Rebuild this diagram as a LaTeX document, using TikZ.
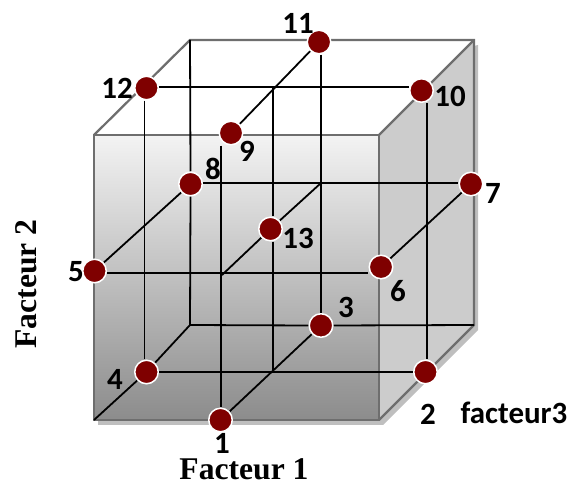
\documentclass[tikz,border=0pt]{standalone}
\usepackage{fontspec}
\setmainfont{Carlito}
\newfontfamily\titlefont{Liberation Serif}
\definecolor{pointred}{HTML}{7F0000}
\definecolor{edgegray}{HTML}{6E6E6E}
\definecolor{sidegray}{HTML}{CCCCCC}
\definecolor{shadowgray}{HTML}{BFBFBF}
\definecolor{frontlight}{HTML}{F3F3F3}
\definecolor{frontdark}{HTML}{8C8C8C}
\tikzset{
  point/.style={circle, draw=white, line width=0.03cm, fill=pointred, minimum size=0.47cm, inner sep=0pt, outer sep=0.02cm},
  num/.style={font=\bfseries\fontsize{17.6}{18}\selectfont, inner sep=0pt},
  axislabel/.style={font=\titlefont\bfseries\fontsize{18}{18}\selectfont, inner sep=0pt},
  gridline/.style={black, line width=0.036cm},
  edge/.style={edgegray, line width=0.045cm, line join=miter}
}
\begin{document}
\begin{tikzpicture}[x=0.02cm, y=-0.02cm]
  \useasboundingbox (0,0) rectangle (572,486);
  % Coins du cube
  \coordinate (fTL) at (94,135);
  \coordinate (fTR) at (379,135);
  \coordinate (fBR) at (379,420);
  \coordinate (fBL) at (94,420);
  \coordinate (bTL) at (190,40);
  \coordinate (bTR) at (474,40);
  \coordinate (bBR) at (474,325);
  \coordinate (bBL) at (190,325);
  % Ombre et faces
  \fill[shadowgray] ([shift={(4,5)}]fTL) -- ([shift={(4,5)}]fBL) -- ([shift={(4,5)}]fBR) -- ([shift={(4,5)}]bBR) -- ([shift={(4,5)}]bTR) -- cycle;
  \fill[white] (fTL) -- (bTL) -- (bTR) -- (fTR) -- cycle;
  \fill[sidegray] (fTR) -- (bTR) -- (bBR) -- (fBR) -- cycle;
  \shade[top color=frontlight, bottom color=frontdark] (fTL) rectangle (fBR);
  % Aretes
  \draw[edge] (fTL) rectangle (fBR);
  \draw[edge] (fTL) -- (bTL) -- (bTR) -- (bBR) -- (fBR);
  \draw[edge] (fTR) -- (bTR);
  % Points
  \node[point] (n1) at (220.5,420) {};
  \node[point] (n2) at (425.5,372) {};
  \node[point] (n3) at (321,325.5) {};
  \node[point] (n4) at (146.5,372) {};
  \node[point] (n5) at (94.5,271) {};
  \node[point] (n6) at (381,267) {};
  \node[point] (n7) at (471,184) {};
  \node[point] (n8) at (190.5,184) {};
  \node[point] (n9) at (231,133) {};
  \node[point] (n10) at (421.5,90.5) {};
  \node[point] (n11) at (319,42) {};
  \node[point] (n12) at (146.5,88) {};
  \node[point] (n13) at (270.5,229) {};
  % Lignes et colonnes de la grille
  \coordinate (rowA) at (0,86.7);
  \coordinate (rowB) at (0,183);
  \coordinate (rowC) at (0,273);
  \coordinate (rowD) at (0,325.5);
  \coordinate (rowE) at (0,372);
  \coordinate (colA) at (144.5,0);
  \coordinate (colB) at (190.5,0);
  \coordinate (colC) at (220.8,0);
  \coordinate (colD) at (273,0);
  \coordinate (colE) at (321,0);
  \coordinate (colF) at (427,0);
  \coordinate (midB) at (321,183);
  \coordinate (midC) at (222,275);
  % Horizontales
  \draw[gridline] (n12.east |- rowA) -- (n10.west |- rowA);
  \draw[gridline] (n8.east |- rowB) -- (n7.west |- rowB);
  \draw[gridline] (n5.east |- rowC) -- (n6.west |- rowC);
  \draw[gridline] (bBL) -- (n3.west |- rowD);
  \draw[gridline] (n3.east |- rowD) -- (bBR);
  \draw[gridline] (n4.east |- rowE) -- (n2.west |- rowE);
  % Verticales
  \draw[gridline] (colA |- n12.south) -- (colA |- n4.north);
  \draw[gridline] (bTL) -- (colB |- n8.north);
  \draw[gridline] (colB |- n8.south) -- (bBL);
  \draw[gridline] (colC |- n9.south) -- (colC |- n1.north);
  \draw[gridline] (colD |- rowA) -- (colD |- n13.north);
  \draw[gridline] (colD |- n13.south) -- (colD |- rowE);
  \draw[gridline] (colE |- n11.south) -- (colE |- n3.north);
  \draw[gridline] (colF |- n10.south) -- (colF |- n2.north);
  % Diagonales
  \draw[gridline] (n11) -- (n9);
  \draw[gridline] (n8) -- (n5);
  \draw[gridline] (n7) -- (n6);
  \draw[gridline] (n13) -- (midB);
  \draw[gridline] (n13) -- (midC);
  \draw[gridline] (n3) -- (n1);
  \draw[gridline] (bBL) -- (n4);
  \draw[gridline] (n4) -- (fBL);
  % Numeros
  \node[num] (t1) at (222,443) {1};
  \node[num] (t2) at (428,414) {2};
  \node[num] (t3) at (346,307) {3};
  \node[num] (t4) at (115,379) {4};
  \node[num] (t5) at (76,272) {5};
  \node[num] (t6) at (398,291) {6};
  \node[num] (t7) at (493,193) {7};
  \node[num] (t8) at (213,169) {8};
  \node[num] (t9) at (247,151) {9};
  \node[num] (t10) at (450,96) {10};
  \node[num] (t11) at (298,23) {11};
  \node[num] (t12) at (117,88) {12};
  \node[num] (t13) at (298,238) {13};
  % Facteurs
  \node[num] (f3) at (514,413) {facteur3};
  \node[axislabel] (f1) at (244,469) {Facteur 1};
  \node[axislabel, rotate=90] (f2) at (26,284) {Facteur 2};
\end{tikzpicture}
\end{document}
